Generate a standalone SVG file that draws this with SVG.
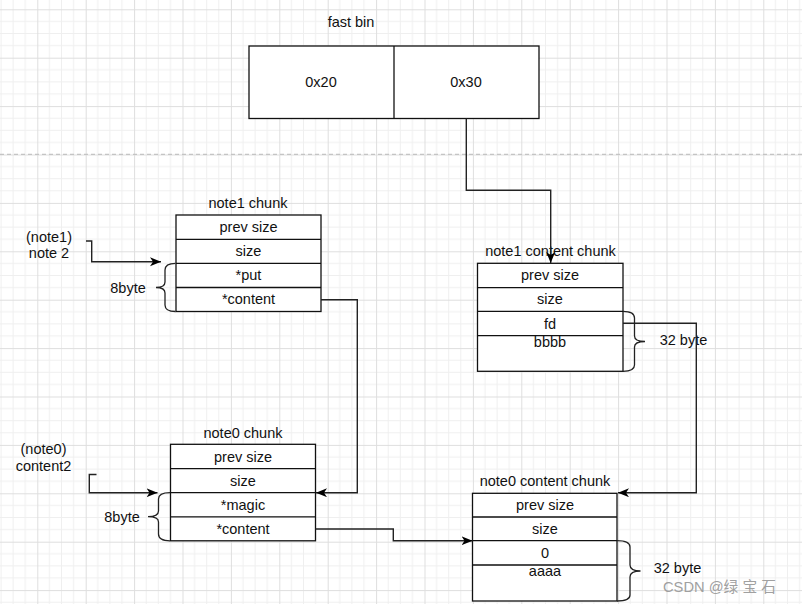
<svg xmlns="http://www.w3.org/2000/svg" width="802" height="604" viewBox="0 0 802 604">
<defs>
<pattern id="grid" patternUnits="userSpaceOnUse" x="37.3" y="9.3" width="48.4" height="48.4">
<path d="M12.1,0V48.4M24.2,0V48.4M36.3,0V48.4M0,12.1H48.4M0,24.2H48.4M0,36.3H48.4" stroke="#efefef" stroke-width="1" fill="none"/>
<path d="M0.5,0V48.4M0,0.5H48.4" stroke="#dedede" stroke-width="1" fill="none"/>
</pattern>
<marker id="arr" markerUnits="userSpaceOnUse" markerWidth="12" markerHeight="10" refX="11" refY="4.5" orient="auto">
<path d="M0,0 L11,4.5 L0,9 L3,4.5 Z" fill="#000"/>
</marker>
<style>
text{font-family:"Liberation Sans",Arial,sans-serif;font-size:14.5px;fill:#111;text-anchor:middle}
.box{fill:#fff;stroke:#111;stroke-width:1.3}
.row{stroke:#111;stroke-width:1.3;fill:none}
.con{fill:none;stroke:#222;stroke-width:1.4}
.brace{fill:none;stroke:#222;stroke-width:1.3}
.wm{fill:#a0a0a0;font-size:14.7px;font-family:"Liberation Sans","Noto Sans CJK SC",sans-serif;text-anchor:start}
</style>
</defs>
<rect width="802" height="604" fill="#fff"/>
<rect width="802" height="604" fill="url(#grid)"/>
<line x1="0" y1="154.4" x2="802" y2="154.4" stroke="#c4c4c4" stroke-width="1.2" stroke-dasharray="4,3"/>

<g id="fastbin">
<text x="351" y="27">fast bin</text>
<rect class="box" x="249" y="46" width="290" height="72.5"/>
<line class="row" x1="394" y1="46" x2="394" y2="118.5"/>
<text x="321" y="87">0x20</text>
<text x="466" y="87">0x30</text>
</g>

<g id="note1-chunk">
<text x="248" y="208">note1 chunk</text>
<rect class="box" x="176" y="215" width="145" height="96.5"/>
<path class="row" d="M176,239.3H321M176,263.3H321M176,287.5H321"/>
<text x="248.5" y="232">prev size</text>
<text x="248.5" y="256">size</text>
<text x="248.5" y="280">*put</text>
<text x="248.5" y="304">*content</text>
<path class="brace" d="M175.5,263.3 Q165,263.3 165,270 V282 Q165,287.5 156,287.5 Q165,287.5 165,293 V305 Q165,311.5 175.5,311.5"/>
<text x="128" y="293">8byte</text>
</g>

<g id="note1-label">
<text x="49" y="242">(note1)</text>
<text x="49" y="258">note 2</text>
</g>

<g id="note1-content-chunk">
<text x="550.5" y="256">note1 content chunk</text>
<rect class="box" x="477.5" y="263.3" width="145.5" height="108"/>
<path class="row" d="M477.5,287.6H623M477.5,311.3H623M477.5,335.6H623"/>
<text x="550" y="280">prev size</text>
<text x="550" y="304">size</text>
<text x="550" y="328.5">fd</text>
<text x="550" y="347">bbbb</text>
<path class="brace" d="M623,311.3 Q634.5,311.3 634.5,318 V336 Q634.5,341.5 645,341.5 Q634.5,341.5 634.5,347 V365 Q634.5,371.3 623,371.3"/>
<text x="683.5" y="344.5">32 byte</text>
</g>

<g id="note0-chunk">
<text x="243" y="438">note0 chunk</text>
<rect class="box" x="170.5" y="444.3" width="145" height="96.5"/>
<path class="row" d="M170.5,468.6H315.5M170.5,492.6H315.5M170.5,516.8H315.5"/>
<text x="243" y="461.5">prev size</text>
<text x="243" y="485.5">size</text>
<text x="243" y="509.5">*magic</text>
<text x="243" y="533.5">*content</text>
<path class="brace" d="M170,492.6 Q158.5,492.6 158.5,499 V511 Q158.5,516.7 148,516.7 Q158.5,516.7 158.5,522 V534 Q158.5,540.8 170,540.8"/>
<text x="122" y="522">8byte</text>
</g>

<g id="note0-label">
<text x="43.5" y="454">(note0)</text>
<text x="43.5" y="470.5">content2</text>
</g>

<g id="note0-content-chunk">
<text x="545" y="486">note0 content chunk</text>
<rect class="box" x="472.5" y="493.3" width="144.5" height="107.7"/>
<path class="row" d="M472.5,517H617M472.5,540.7H617M472.5,565H617"/>
<text x="545" y="510">prev size</text>
<text x="545" y="534">size</text>
<text x="545" y="558">0</text>
<text x="545" y="576">aaaa</text>
<path class="brace" d="M617,540.7 Q630,540.7 630,547 V565 Q630,571 640.5,571 Q630,571 630,577 V595 Q630,601 617,601"/>
<text x="677.5" y="573">32 byte</text>
</g>

<g id="connectors">
<path class="con" d="M466.3,118.5 V190.3 H550.7 V263" marker-end="url(#arr)"/>
<path class="con" d="M86,241 H91.7 V261.8 H161" marker-end="url(#arr)"/>
<path class="con" d="M321,299.7 H357.3 V492.7 H316" marker-end="url(#arr)"/>
<path class="con" d="M96.5,474.5 H89.3 V492.7 H157.5" marker-end="url(#arr)"/>
<path class="con" d="M315.5,529 H393.3 V540.7 H472.5" marker-end="url(#arr)"/>
<path class="con" d="M623,323.3 H696.3 V492.7 H618" marker-end="url(#arr)"/>
</g>

<text class="wm" x="663" y="592">CSDN @绿 宝 石</text>
</svg>
